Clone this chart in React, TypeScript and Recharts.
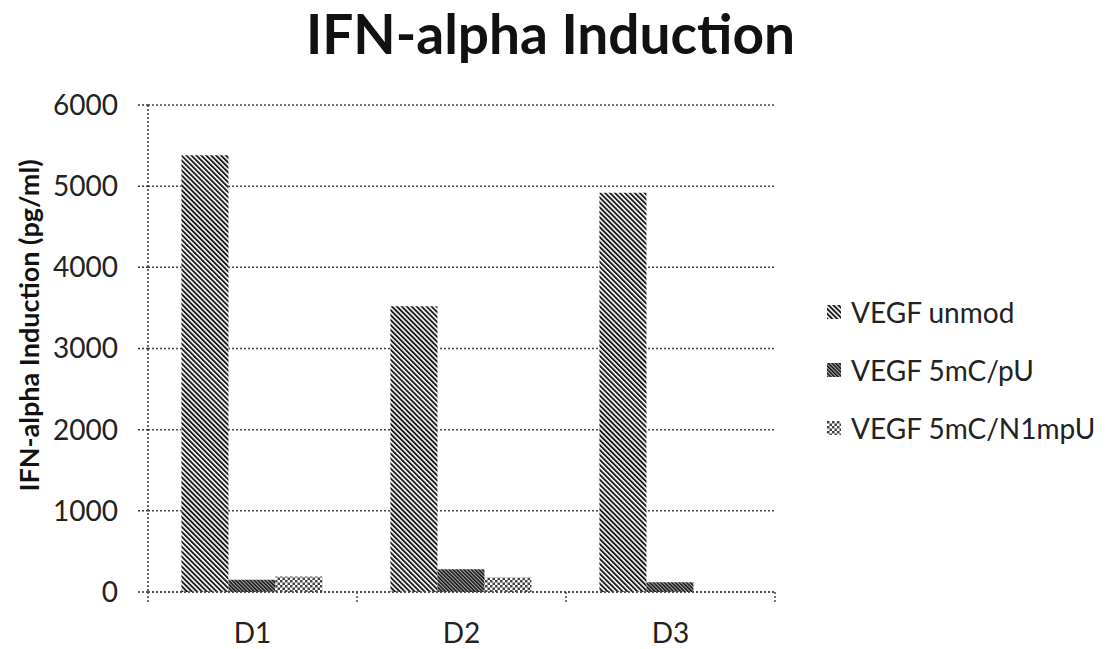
import { BarChart, Bar, XAxis, YAxis, CartesianGrid, Legend } from "recharts";

const days = ["D1", "D2", "D3"];
const unmodValues = [5380, 3520, 4920];
const pUValues = [150, 280, 120];
const n1mpUValues = [190, 180, 0];
const yTicks = [0, 1000, 2000, 3000, 4000, 5000, 6000];
const seriesNames = ["VEGF unmod", "VEGF 5mC/pU", "VEGF 5mC/N1mpU"];

const data = days.map((name, i) => ({
  name,
  unmod: unmodValues[i],
  pU: pUValues[i],
  n1mpU: n1mpUValues[i],
}));

const FONT = "Lato, 'Open Sans', sans-serif";
const patternIds = ["patUnmod", "patPU", "patN1"];

const Patterns = () => (
  <defs>
    <pattern id="patUnmod" patternUnits="userSpaceOnUse" width="3.5" height="4" patternTransform="rotate(-45)">
      <rect width="3.5" height="4" fill="#fff" />
      <rect width="1.9" height="4" fill="#1a1a1a" />
    </pattern>
    <pattern id="patPU" patternUnits="userSpaceOnUse" width="2.6" height="4" patternTransform="rotate(-45)">
      <rect width="2.6" height="4" fill="#aaa" />
      <rect width="1.5" height="4" fill="#111" />
    </pattern>
    <pattern id="patN1" patternUnits="userSpaceOnUse" width="5" height="5">
      <rect width="5" height="5" fill="#fff" />
      <rect width="2.5" height="2.5" fill="#444" />
      <rect x="2.5" y="2.5" width="2.5" height="2.5" fill="#444" />
    </pattern>
  </defs>
);

const XTick = (props: any) => {
  const { x, y, payload, index } = props;
  const half = payload.offset ?? 0;
  return (
    <g>
      <line x1={x - half} y1={y - 8} x2={x - half} y2={y + 3} stroke="#444" strokeWidth={1.5} strokeDasharray="2 2" />
      {index === days.length - 1 && (
        <line x1={x + half} y1={y - 8} x2={x + half} y2={y + 3} stroke="#444" strokeWidth={1.5} strokeDasharray="2 2" />
      )}
      <text x={x} y={y + 43} textAnchor="middle" fontFamily={FONT} fontSize={28} fill="#222">
        {payload.value}
      </text>
    </g>
  );
};

const YLabel = (props: any) => {
  const { viewBox } = props;
  const cx = viewBox.x + viewBox.width - 120;
  const cy = viewBox.y + viewBox.height / 2 - 23;
  return (
    <text
      x={cx}
      y={cy}
      transform={`rotate(-90, ${cx}, ${cy})`}
      textAnchor="middle"
      dominantBaseline="central"
      fontFamily={FONT}
      fontWeight={700}
      fontSize={27}
      fill="#111"
    >
      IFN-alpha Induction (pg/ml)
    </text>
  );
};

const LegendContent = () => (
  <div style={{ fontFamily: FONT, fontSize: 28, color: "#222" }}>
    {seriesNames.map((name, i) => (
      <div key={name} style={{ display: "flex", alignItems: "center", height: 58 }}>
        <svg width={14} height={14} style={{ marginRight: 10 }}>
          <Patterns />
          <rect x={0} y={0} width={14} height={14} fill={`url(#${patternIds[i]})`} />
        </svg>
        <span>{name}</span>
      </div>
    ))}
  </div>
);

export default function App() {
  return (
    <div style={{ position: "absolute", left: 0, top: 0, width: 1107, height: 649, background: "#fff" }}>
      <div
        style={{
          position: "absolute",
          left: 0,
          width: 1101,
          top: 0,
          textAlign: "center",
          fontFamily: FONT,
          fontWeight: 700,
          fontSize: 55,
          color: "#111",
        }}
      >
        IFN-alpha Induction
      </div>
      <BarChart
        width={1107}
        height={649}
        data={data}
        margin={{ top: 105, right: 332, bottom: 17, left: 78 }}
        barCategoryGap="16%"
        barGap={0}
      >
        <Patterns />
        <CartesianGrid vertical={false} stroke="#444" strokeWidth={1.5} strokeDasharray="2 2" />
        <XAxis
          dataKey="name"
          axisLine={{ stroke: "#444", strokeWidth: 1.5, strokeDasharray: "2 2" }}
          tickLine={false}
          tick={<XTick />}
          height={40}
        />
        <YAxis
          domain={[0, 6000]}
          ticks={yTicks}
          width={70}
          axisLine={{ stroke: "#333", strokeWidth: 1.5, strokeDasharray: "2 2" }}
          tickLine={{ stroke: "#333", strokeWidth: 1.5, strokeDasharray: "2 2" }}
          tickSize={10}
          tickMargin={20}
          tick={{ fontFamily: FONT, fontSize: 28, fill: "#222" }}
          label={<YLabel />}
        />
        <Legend
          layout="vertical"
          align="center"
          verticalAlign="middle"
          content={<LegendContent />}
          wrapperStyle={{ left: 827, top: 283, width: 280 }}
        />
        <Bar dataKey="unmod" name={seriesNames[0]} fill="url(#patUnmod)" isAnimationActive={false} />
        <Bar dataKey="pU" name={seriesNames[1]} fill="url(#patPU)" isAnimationActive={false} />
        <Bar dataKey="n1mpU" name={seriesNames[2]} fill="url(#patN1)" isAnimationActive={false} />
      </BarChart>
    </div>
  );
}
